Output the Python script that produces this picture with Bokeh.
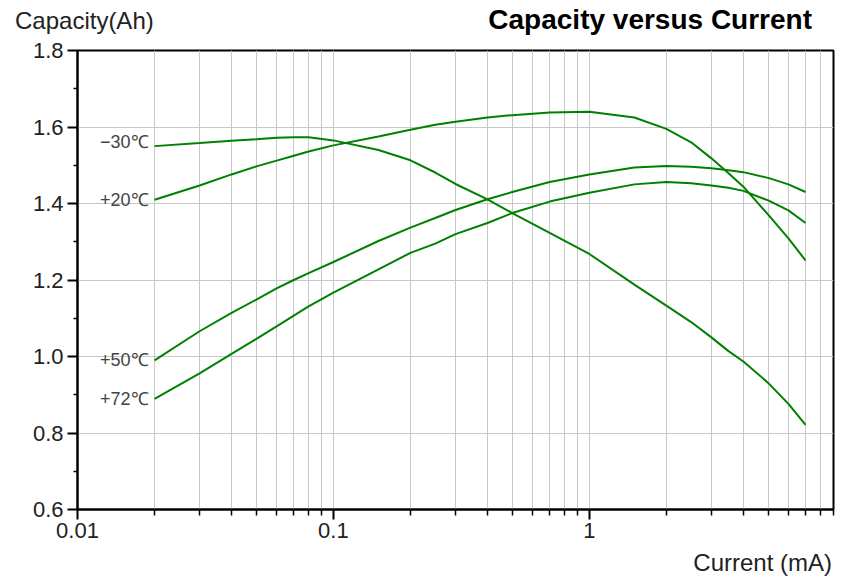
from bokeh.plotting import figure
from bokeh.models import FixedTicker, ColumnDataSource, Div
from bokeh.layouts import column
from bokeh.embed import file_html
from bokeh.resources import INLINE
from bokeh.core.properties import value

# ---------------- data ----------------
current = [0.02, 0.03, 0.04, 0.05, 0.06, 0.07, 0.08, 0.1, 0.15, 0.2, 0.25, 0.3, 0.4,
           0.5, 0.7, 1, 1.5, 2, 2.5, 3, 3.5, 4, 5, 6, 7]

cap_m30 = [1.550, 1.558, 1.564, 1.568, 1.572, 1.573, 1.573, 1.565, 1.540, 1.513, 1.481, 1.451, 1.411,
           1.375, 1.323, 1.268, 1.188, 1.133, 1.090, 1.050, 1.014, 0.987, 0.931, 0.876, 0.821]
cap_p20 = [1.410, 1.447, 1.476, 1.497, 1.512, 1.525, 1.536, 1.552, 1.575, 1.593, 1.606, 1.614, 1.625,
           1.631, 1.638, 1.640, 1.625, 1.595, 1.560, 1.518, 1.479, 1.444, 1.371, 1.309, 1.251]
cap_p50 = [0.990, 1.066, 1.114, 1.149, 1.178, 1.200, 1.218, 1.247, 1.302, 1.337, 1.362, 1.383, 1.411,
           1.430, 1.456, 1.476, 1.494, 1.498, 1.496, 1.492, 1.487, 1.482, 1.467, 1.450, 1.430]
cap_p72 = [0.889, 0.956, 1.007, 1.046, 1.079, 1.107, 1.131, 1.167, 1.228, 1.271, 1.295, 1.320, 1.349,
           1.375, 1.405, 1.428, 1.450, 1.456, 1.453, 1.447, 1.441, 1.433, 1.408, 1.382, 1.349]

series_names = ["\u221230\u2103", "+20\u2103", "+50\u2103", "+72\u2103"]
series_values = [cap_m30, cap_p20, cap_p50, cap_p72]
label_dy = [-4, 0, 0, 0]

x_major = [0.01, 0.1, 1]
x_labels = ["0.01", "0.1", "1"]
x_minor = [0.02, 0.03, 0.04, 0.05, 0.06, 0.07, 0.08, 0.09,
           0.2, 0.3, 0.4, 0.5, 0.6, 0.7, 0.8, 0.9,
           2, 3, 4, 5, 6, 7, 8, 9]
y_major = [0.6, 0.8, 1.0, 1.2, 1.4, 1.6, 1.8]
y_labels = ["0.6", "0.8", "1.0", "1.2", "1.4", "1.6", "1.8"]
y_minor = [0.7, 0.9, 1.1, 1.3, 1.5, 1.7]

title_text = "Capacity versus Current"
y_title = "Capacity(Ah)"
x_title = "Current (mA)"

FONT = "Liberation Sans"
GREEN = "#008000"
GRID = "#c8c8c8"
FULL_W = 846

p = figure(frame_width=756, frame_height=459, x_axis_type="log",
           x_range=(0.01, 9), y_range=(0.6, 1.8),
           output_backend="svg", toolbar_location=None, title=None,
           min_border_left=77, min_border_right=13,
           min_border_top=12, min_border_bottom=40, margin=0)
p.background_fill_color = "white"
p.border_fill_color = "white"
p.outline_line_color = "black"
p.outline_line_width = 2

xt = FixedTicker(ticks=x_major, minor_ticks=x_minor)
yt = FixedTicker(ticks=y_major, minor_ticks=y_minor)
p.xaxis.ticker = xt
p.yaxis.ticker = yt
p.xgrid.ticker = xt
p.ygrid.ticker = yt
p.xaxis.major_label_overrides = dict(zip(x_major, x_labels))
p.yaxis.major_label_overrides = dict(zip(y_major, y_labels))

p.xgrid.grid_line_color = GRID
p.xgrid.minor_grid_line_color = GRID
p.ygrid.grid_line_color = GRID
p.ygrid.minor_grid_line_color = None

for ax in (p.xaxis[0], p.yaxis[0]):
    ax.axis_line_color = "black"
    ax.axis_line_width = 2
    ax.major_tick_line_color = "black"
    ax.major_tick_line_width = 2
    ax.minor_tick_line_color = "black"
    ax.minor_tick_line_width = 1.5
    ax.major_tick_in = 0
    ax.minor_tick_in = 0
    ax.major_label_text_font = FONT
    ax.major_label_text_font_size = "22px"
    ax.major_label_text_color = "#222222"

p.yaxis.major_tick_out = 10
p.yaxis.minor_tick_out = 4
p.yaxis.major_label_standoff = 4
p.xaxis.major_tick_out = 10
p.xaxis.minor_tick_out = 6
p.xaxis.major_label_standoff = 3

for vals in series_values:
    p.line(current, vals, line_color=GREEN, line_width=2)

src = ColumnDataSource(dict(
    x=[current[0]] * len(series_values),
    y=[v[0] for v in series_values],
    t=series_names,
    dy=label_dy,
))
p.text(x="x", y="y", text="t", source=src, x_offset=-6, y_offset="dy",
       text_align="right", text_baseline="middle",
       text_font=value(FONT), text_font_size="18px", text_color="#444444")

top_html = (
    f'<div style="position:relative;width:{FULL_W}px;height:38px;font-family:\'{FONT}\';">'
    f'<span style="position:absolute;left:15px;top:9px;font-size:24px;line-height:24px;'
    f'color:#222222;white-space:nowrap;">{y_title}</span>'
    f'<span style="position:absolute;right:34px;top:5px;font-size:28px;line-height:30px;'
    f'font-weight:bold;color:#000000;white-space:nowrap;">{title_text}</span>'
    f'</div>'
)
bottom_html = (
    f'<div style="position:relative;width:{FULL_W}px;height:26px;font-family:\'{FONT}\';">'
    f'<span style="position:absolute;right:14px;top:2px;font-size:24px;line-height:24px;'
    f'color:#222222;white-space:nowrap;">{x_title}</span>'
    f'</div>'
)
top_div = Div(text=top_html, width=FULL_W, height=38, margin=0)
bottom_div = Div(text=bottom_html, width=FULL_W, height=26, margin=0)

layout = column(top_div, p, bottom_div, spacing=0)

open("out.html", "w").write(file_html(layout, INLINE))
